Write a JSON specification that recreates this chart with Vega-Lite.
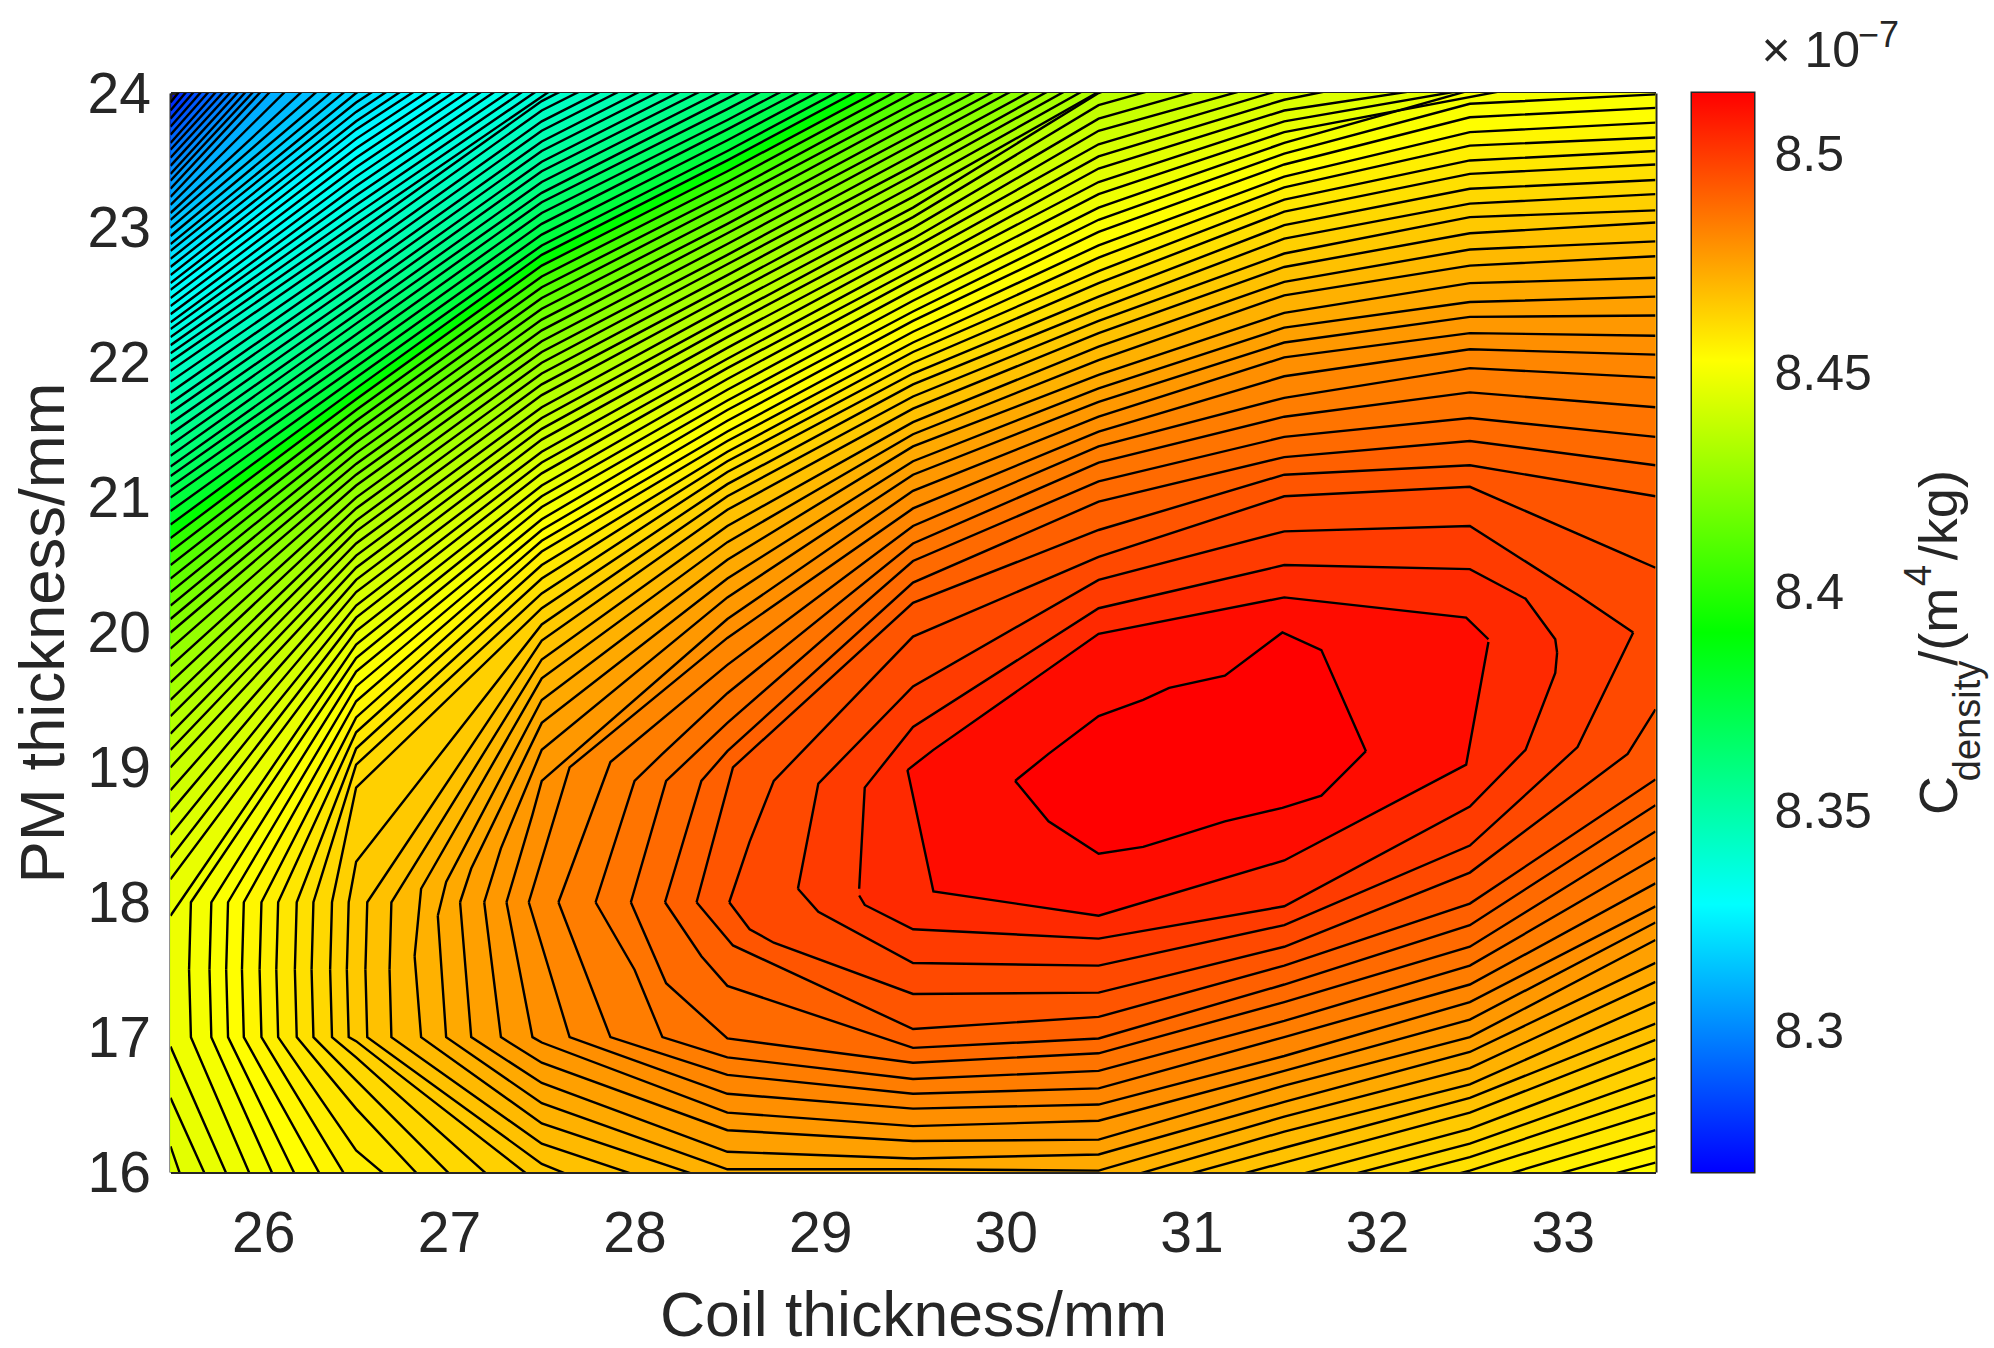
{"$schema":"https://vega.github.io/schema/vega-lite/v6.json","autosize":"none","padding":{"left":170.5,"top":93,"right":1823.5,"bottom":1255},"background":"white","config":{"font":"Liberation Sans","axis":{"grid":false,"domainColor":"#262626","domainWidth":3,"tickColor":"#262626","tickWidth":2,"labelColor":"#262626","titleColor":"#262626","titleFontWeight":"normal","zindex":1}},"bounds":"flush","spacing":36.5,"datasets":{"u":[
{"L":8.265,"x":25.5,"h":23.93},{"L":8.265,"x":25.6,"h":24.1},
{"L":8.2675,"x":25.5,"h":23.87},{"L":8.2675,"x":25.66,"h":24.13},
{"L":8.27,"x":25.5,"h":23.81},{"L":8.27,"x":25.74,"h":24.19},
{"L":8.2725,"x":25.5,"h":23.75},{"L":8.2725,"x":25.82,"h":24.25},
{"L":8.275,"x":25.5,"h":23.69},{"L":8.275,"x":25.9,"h":24.31},
{"L":8.2775,"x":25.5,"h":23.63},{"L":8.2775,"x":25.98,"h":24.37},
{"L":8.28,"x":25.5,"h":23.58},{"L":8.28,"x":26.06,"h":24.42},
{"L":8.2825,"x":25.5,"h":23.52},{"L":8.2825,"x":26.14,"h":24.48},
{"L":8.285,"x":25.5,"h":23.46},{"L":8.285,"x":26.22,"h":24.54},
{"L":8.2875,"x":25.5,"h":23.4},{"L":8.2875,"x":26.3,"h":24.6},
{"L":8.29,"x":25.5,"h":23.35},{"L":8.29,"x":26.38,"h":24.65},
{"L":8.2925,"x":25.5,"h":23.29},{"L":8.2925,"x":26.46,"h":24.71},
{"L":8.295,"x":25.5,"h":23.23},{"L":8.295,"x":26.56,"h":24.77},
{"L":8.2975,"x":25.5,"h":23.17},{"L":8.2975,"x":26.72,"h":24.83},
{"L":8.3,"x":25.5,"h":23.11},{"L":8.3,"x":26.9,"h":24.89},
{"L":8.3025,"x":25.5,"h":23.06},{"L":8.3025,"x":27.06,"h":24.94},
{"L":8.305,"x":25.5,"h":23},{"L":8.305,"x":27.22,"h":25},
{"L":8.3075,"x":25.5,"h":22.94},{"L":8.3075,"x":27.36,"h":25.06},
{"L":8.31,"x":25.5,"h":22.88},{"L":8.31,"x":26.5,"h":24},{"L":8.31,"x":27,"h":24.4},
{"L":8.3125,"x":25.5,"h":22.83},{"L":8.3125,"x":26.5,"h":23.93},{"L":8.3125,"x":26.97,"h":24.35},
{"L":8.315,"x":25.5,"h":22.77},{"L":8.315,"x":26.5,"h":23.86},{"L":8.315,"x":27.04,"h":24.35},
{"L":8.3175,"x":25.5,"h":22.71},{"L":8.3175,"x":26.5,"h":23.79},{"L":8.3175,"x":27.11,"h":24.35},
{"L":8.32,"x":25.5,"h":22.65},{"L":8.32,"x":26.5,"h":23.73},{"L":8.32,"x":27.19,"h":24.35},
{"L":8.3225,"x":25.5,"h":22.59},{"L":8.3225,"x":26.5,"h":23.66},{"L":8.3225,"x":27.26,"h":24.35},
{"L":8.325,"x":25.5,"h":22.54},{"L":8.325,"x":26.5,"h":23.59},{"L":8.325,"x":27.33,"h":24.35},
{"L":8.3275,"x":25.5,"h":22.48},{"L":8.3275,"x":26.5,"h":23.52},{"L":8.3275,"x":27.4,"h":24.35},
{"L":8.33,"x":25.5,"h":22.42},{"L":8.33,"x":26.5,"h":23.45},{"L":8.33,"x":27.47,"h":24.35},
{"L":8.3325,"x":25.5,"h":22.36},{"L":8.3325,"x":26.5,"h":23.38},{"L":8.3325,"x":27.54,"h":24.35},
{"L":8.335,"x":25.5,"h":22.3},{"L":8.335,"x":26.5,"h":23.31},{"L":8.335,"x":27.61,"h":24.35},
{"L":8.3375,"x":25.5,"h":22.25},{"L":8.3375,"x":26.5,"h":23.24},{"L":8.3375,"x":27.69,"h":24.35},
{"L":8.34,"x":25.5,"h":22.19},{"L":8.34,"x":26.5,"h":23.17},{"L":8.34,"x":27.76,"h":24.35},
{"L":8.3425,"x":25.5,"h":22.13},{"L":8.3425,"x":26.5,"h":23.1},{"L":8.3425,"x":27.83,"h":24.35},
{"L":8.345,"x":25.5,"h":22.07},{"L":8.345,"x":26.5,"h":23.03},{"L":8.345,"x":27.9,"h":24.35},
{"L":8.3475,"x":25.5,"h":22.01},{"L":8.3475,"x":26.5,"h":22.96},{"L":8.3475,"x":27.5,"h":23.94},{"L":8.3475,"x":28.01,"h":24.3},
{"L":8.35,"x":25.5,"h":21.94},{"L":8.35,"x":26.5,"h":22.89},{"L":8.35,"x":27.5,"h":23.87},{"L":8.35,"x":28.12,"h":24.3},
{"L":8.3525,"x":25.5,"h":21.86},{"L":8.3525,"x":26.5,"h":22.81},{"L":8.3525,"x":27.5,"h":23.79},{"L":8.3525,"x":28.23,"h":24.3},
{"L":8.355,"x":25.5,"h":21.78},{"L":8.355,"x":26.5,"h":22.74},{"L":8.355,"x":27.5,"h":23.72},{"L":8.355,"x":28.33,"h":24.3},
{"L":8.3575,"x":25.5,"h":21.7},{"L":8.3575,"x":26.5,"h":22.66},{"L":8.3575,"x":27.5,"h":23.64},{"L":8.3575,"x":28.44,"h":24.3},
{"L":8.36,"x":25.5,"h":21.63},{"L":8.36,"x":26.5,"h":22.59},{"L":8.36,"x":27.5,"h":23.57},{"L":8.36,"x":28.55,"h":24.3},
{"L":8.3625,"x":25.5,"h":21.55},{"L":8.3625,"x":26.5,"h":22.51},{"L":8.3625,"x":27.5,"h":23.49},{"L":8.3625,"x":28.66,"h":24.3},
{"L":8.365,"x":25.5,"h":21.47},{"L":8.365,"x":26.5,"h":22.44},{"L":8.365,"x":27.5,"h":23.42},{"L":8.365,"x":28.77,"h":24.3},
{"L":8.3675,"x":25.5,"h":21.39},{"L":8.3675,"x":26.5,"h":22.36},{"L":8.3675,"x":27.5,"h":23.34},{"L":8.3675,"x":28.88,"h":24.3},
{"L":8.37,"x":25.5,"h":21.31},{"L":8.37,"x":26.5,"h":22.29},{"L":8.37,"x":27.5,"h":23.26},{"L":8.37,"x":28.5,"h":23.96},{"L":8.37,"x":28.98,"h":24.3},
{"L":8.3725,"x":25.5,"h":21.23},{"L":8.3725,"x":26.5,"h":22.21},{"L":8.3725,"x":27.5,"h":23.19},{"L":8.3725,"x":28.5,"h":23.88},{"L":8.3725,"x":29.08,"h":24.3},
{"L":8.375,"x":25.5,"h":21.16},{"L":8.375,"x":26.5,"h":22.13},{"L":8.375,"x":27.5,"h":23.11},{"L":8.375,"x":28.5,"h":23.8},{"L":8.375,"x":29.19,"h":24.3},
{"L":8.3775,"x":25.5,"h":21.08},{"L":8.3775,"x":26.5,"h":22.05},{"L":8.3775,"x":27.5,"h":23.03},{"L":8.3775,"x":28.5,"h":23.73},{"L":8.3775,"x":29.29,"h":24.3},
{"L":8.38,"x":25.5,"h":21},{"L":8.38,"x":26.5,"h":21.97},{"L":8.38,"x":27.5,"h":22.95},{"L":8.38,"x":28.5,"h":23.65},{"L":8.38,"x":29.39,"h":24.3},
{"L":8.3825,"x":25.5,"h":20.9},{"L":8.3825,"x":26.5,"h":21.89},{"L":8.3825,"x":27.5,"h":22.87},{"L":8.3825,"x":28.5,"h":23.57},{"L":8.3825,"x":29.49,"h":24.3},
{"L":8.385,"x":25.5,"h":20.8},{"L":8.385,"x":26.5,"h":21.81},{"L":8.385,"x":27.5,"h":22.8},{"L":8.385,"x":28.5,"h":23.5},{"L":8.385,"x":29.59,"h":24.3},
{"L":8.3875,"x":25.5,"h":20.7},{"L":8.3875,"x":26.5,"h":21.73},{"L":8.3875,"x":27.5,"h":22.72},{"L":8.3875,"x":28.5,"h":23.42},{"L":8.3875,"x":29.7,"h":24.3},
{"L":8.39,"x":25.5,"h":20.6},{"L":8.39,"x":26.5,"h":21.65},{"L":8.39,"x":27.5,"h":22.64},{"L":8.39,"x":28.5,"h":23.34},{"L":8.39,"x":29.8,"h":24.3},
{"L":8.3925,"x":25.5,"h":20.5},{"L":8.3925,"x":26.5,"h":21.57},{"L":8.3925,"x":27.5,"h":22.56},{"L":8.3925,"x":28.5,"h":23.26},{"L":8.3925,"x":29.9,"h":24.3},
{"L":8.395,"x":25.5,"h":20.4},{"L":8.395,"x":26.5,"h":21.49},{"L":8.395,"x":27.5,"h":22.48},{"L":8.395,"x":28.5,"h":23.19},{"L":8.395,"x":29.5,"h":23.92},{"L":8.395,"x":29.99,"h":24.25},
{"L":8.3975,"x":25.5,"h":20.3},{"L":8.3975,"x":26.5,"h":21.41},{"L":8.3975,"x":27.5,"h":22.4},{"L":8.3975,"x":28.5,"h":23.11},{"L":8.3975,"x":29.5,"h":23.85},{"L":8.3975,"x":30.08,"h":24.25},
{"L":8.4,"x":25.5,"h":20.2},{"L":8.4,"x":26.5,"h":21.33},{"L":8.4,"x":27.5,"h":22.32},{"L":8.4,"x":28.5,"h":23.03},{"L":8.4,"x":29.5,"h":23.77},{"L":8.4,"x":30.17,"h":24.25},
{"L":8.4025,"x":25.5,"h":20.1},{"L":8.4025,"x":26.5,"h":21.25},{"L":8.4025,"x":27.5,"h":22.24},{"L":8.4025,"x":28.5,"h":22.96},{"L":8.4025,"x":29.5,"h":23.69},{"L":8.4025,"x":30.26,"h":24.25},
{"L":8.405,"x":25.5,"h":20},{"L":8.405,"x":26.5,"h":21.17},{"L":8.405,"x":27.5,"h":22.16},{"L":8.405,"x":28.5,"h":22.88},{"L":8.405,"x":29.5,"h":23.62},{"L":8.405,"x":30.35,"h":24.25},
{"L":8.4075,"x":25.5,"h":19.88},{"L":8.4075,"x":26.5,"h":21.09},{"L":8.4075,"x":27.5,"h":22.08},{"L":8.4075,"x":28.5,"h":22.8},{"L":8.4075,"x":29.5,"h":23.54},{"L":8.4075,"x":30.45,"h":24.25},
{"L":8.41,"x":25.5,"h":19.75},{"L":8.41,"x":26.5,"h":21},{"L":8.41,"x":27.5,"h":22},{"L":8.41,"x":28.5,"h":22.73},{"L":8.41,"x":29.5,"h":23.46},{"L":8.41,"x":30.54,"h":24.25},
{"L":8.4125,"x":25.5,"h":19.63},{"L":8.4125,"x":26.5,"h":20.92},{"L":8.4125,"x":27.5,"h":21.92},{"L":8.4125,"x":28.5,"h":22.65},{"L":8.4125,"x":29.5,"h":23.39},{"L":8.4125,"x":30.63,"h":24.25},
{"L":8.415,"x":25.5,"h":19.5},{"L":8.415,"x":26.5,"h":20.83},{"L":8.415,"x":27.5,"h":21.84},{"L":8.415,"x":28.5,"h":22.57},{"L":8.415,"x":29.5,"h":23.31},{"L":8.415,"x":30.72,"h":24.25},
{"L":8.4175,"x":25.5,"h":19.38},{"L":8.4175,"x":26.5,"h":20.75},{"L":8.4175,"x":27.5,"h":21.76},{"L":8.4175,"x":28.5,"h":22.5},{"L":8.4175,"x":29.5,"h":23.23},{"L":8.4175,"x":30.81,"h":24.25},
{"L":8.42,"x":25.5,"h":19.25},{"L":8.42,"x":26.5,"h":20.66},{"L":8.42,"x":27.5,"h":21.67},{"L":8.42,"x":28.5,"h":22.42},{"L":8.42,"x":29.5,"h":23.15},{"L":8.42,"x":30.5,"h":24},{"L":8.42,"x":31,"h":24.25},
{"L":8.4225,"x":25.5,"h":19.13},{"L":8.4225,"x":26.5,"h":20.57},{"L":8.4225,"x":27.5,"h":21.59},{"L":8.4225,"x":28.5,"h":22.34},{"L":8.4225,"x":29.5,"h":23.08},{"L":8.4225,"x":30.5,"h":23.91},{"L":8.4225,"x":31.25,"h":24.2},
{"L":8.425,"x":25.5,"h":19},{"L":8.425,"x":26.5,"h":20.48},{"L":8.425,"x":27.5,"h":21.51},{"L":8.425,"x":28.5,"h":22.27},{"L":8.425,"x":29.5,"h":23},{"L":8.425,"x":30.5,"h":23.81},{"L":8.425,"x":31.5,"h":24.2},
{"L":8.4275,"x":25.5,"h":18.83},{"L":8.4275,"x":26.5,"h":20.39},{"L":8.4275,"x":27.5,"h":21.43},{"L":8.4275,"x":28.5,"h":22.19},{"L":8.4275,"x":29.5,"h":22.92},{"L":8.4275,"x":30.5,"h":23.72},{"L":8.4275,"x":31.75,"h":24.2},
{"L":8.43,"x":25.5,"h":18.67},{"L":8.43,"x":26.5,"h":20.3},{"L":8.43,"x":27.5,"h":21.34},{"L":8.43,"x":28.5,"h":22.11},{"L":8.43,"x":29.5,"h":22.85},{"L":8.43,"x":30.5,"h":23.62},{"L":8.43,"x":31.5,"h":24.03},{"L":8.43,"x":32.2,"h":24.2},
{"L":8.4325,"x":25.5,"h":18.5},{"L":8.4325,"x":26.5,"h":20.2},{"L":8.4325,"x":27.5,"h":21.26},{"L":8.4325,"x":28.5,"h":22.03},{"L":8.4325,"x":29.5,"h":22.77},{"L":8.4325,"x":30.5,"h":23.53},{"L":8.4325,"x":31.5,"h":23.95},{"L":8.4325,"x":32.4,"h":24.2}
],"b":[
{"L":8.435,"x":25.5,"h":18.33,"l":16.19},{"L":8.435,"x":26.5,"h":20.11,"l":12.2},{"L":8.435,"x":27.5,"h":21.18,"l":12},{"L":8.435,"x":28.5,"h":21.96,"l":12},{"L":8.435,"x":29.5,"h":22.69,"l":12},{"L":8.435,"x":30.5,"h":23.44,"l":12},{"L":8.435,"x":31.5,"h":23.87,"l":12},{"L":8.435,"x":32.6,"h":24.1,"l":12},
{"L":8.4375,"x":25.5,"h":18.17,"l":16.55},{"L":8.4375,"x":26.5,"h":20.01,"l":13.5},{"L":8.4375,"x":27.5,"h":21.09,"l":12},{"L":8.4375,"x":28.5,"h":21.88,"l":12},{"L":8.4375,"x":29.5,"h":22.62,"l":12},{"L":8.4375,"x":30.5,"h":23.34,"l":12},{"L":8.4375,"x":31.5,"h":23.79,"l":12},{"L":8.4375,"x":32.8,"h":24.1,"l":12},
{"L":8.44,"x":25.5,"h":17.9,"l":16.93},{"L":8.44,"x":26.5,"h":19.91,"l":13.8},{"L":8.44,"x":27.5,"h":21.01,"l":12},{"L":8.44,"x":28.5,"h":21.8,"l":12},{"L":8.44,"x":29.5,"h":22.54,"l":12},{"L":8.44,"x":30.5,"h":23.25,"l":12},{"L":8.44,"x":31.5,"h":23.71,"l":12},{"L":8.44,"x":33,"h":24.1,"l":12},
{"L":8.4425,"x":25.6,"h":17.5,"l":17.5},{"L":8.4425,"x":25.61,"h":18,"l":17},{"L":8.4425,"x":26.5,"h":19.81,"l":14.15},{"L":8.4425,"x":27.5,"h":20.93,"l":12},{"L":8.4425,"x":28.5,"h":21.72,"l":12},{"L":8.4425,"x":29.5,"h":22.46,"l":12},{"L":8.4425,"x":30.5,"h":23.15,"l":12},{"L":8.4425,"x":31.5,"h":23.63,"l":12},{"L":8.4425,"x":32.5,"h":24.02,"l":12},{"L":8.4425,"x":33.5,"h":24.1,"l":12},
{"L":8.445,"x":25.71,"h":17.5,"l":17.5},{"L":8.445,"x":25.72,"h":18,"l":17},{"L":8.445,"x":26.5,"h":19.71,"l":14.6},{"L":8.445,"x":27.5,"h":20.84,"l":14},{"L":8.445,"x":28.5,"h":21.65,"l":14},{"L":8.445,"x":29.5,"h":22.38,"l":14},{"L":8.445,"x":30.5,"h":23.06,"l":14},{"L":8.445,"x":31.5,"h":23.55,"l":14},{"L":8.445,"x":32.5,"h":23.92,"l":14},{"L":8.445,"x":33.5,"h":23.99,"l":14},
{"L":8.4475,"x":25.8,"h":17.5,"l":17.5},{"L":8.4475,"x":25.81,"h":18,"l":17},{"L":8.4475,"x":26.5,"h":19.6,"l":15.05},{"L":8.4475,"x":27.5,"h":20.76,"l":15},{"L":8.4475,"x":28.5,"h":21.57,"l":15},{"L":8.4475,"x":29.5,"h":22.31,"l":15},{"L":8.4475,"x":30.5,"h":22.97,"l":15},{"L":8.4475,"x":31.5,"h":23.47,"l":15},{"L":8.4475,"x":32.5,"h":23.82,"l":15.6},{"L":8.4475,"x":33.5,"h":23.89,"l":15.95},
{"L":8.45,"x":25.885,"h":17.5,"l":17.5},{"L":8.45,"x":25.895,"h":18,"l":17},{"L":8.45,"x":26.5,"h":19.49,"l":15.5},{"L":8.45,"x":27.5,"h":20.68,"l":15},{"L":8.45,"x":28.5,"h":21.49,"l":15},{"L":8.45,"x":29.5,"h":22.23,"l":15},{"L":8.45,"x":30.5,"h":22.87,"l":15},{"L":8.45,"x":31.5,"h":23.38,"l":15},{"L":8.45,"x":32.5,"h":23.71,"l":15.7},{"L":8.45,"x":33.5,"h":23.78,"l":16.07},
{"L":8.4525,"x":25.98,"h":17.5,"l":17.5},{"L":8.4525,"x":25.99,"h":18,"l":17},{"L":8.4525,"x":26.5,"h":19.37,"l":15.84},{"L":8.4525,"x":27.5,"h":20.6,"l":15},{"L":8.4525,"x":28.5,"h":21.42,"l":15},{"L":8.4525,"x":29.5,"h":22.15,"l":15},{"L":8.4525,"x":30.5,"h":22.78,"l":15},{"L":8.4525,"x":31.5,"h":23.3,"l":15},{"L":8.4525,"x":32.5,"h":23.61,"l":15.8},{"L":8.4525,"x":33.5,"h":23.67,"l":16.19},
{"L":8.455,"x":26.07,"h":17.5,"l":17.5},{"L":8.455,"x":26.08,"h":18,"l":17},{"L":8.455,"x":26.5,"h":19.26,"l":16.16},{"L":8.455,"x":27.5,"h":20.5,"l":15},{"L":8.455,"x":28.5,"h":21.34,"l":15},{"L":8.455,"x":29.5,"h":22.08,"l":15},{"L":8.455,"x":30.5,"h":22.68,"l":15},{"L":8.455,"x":31.5,"h":23.21,"l":15.55},{"L":8.455,"x":32.5,"h":23.5,"l":15.9},{"L":8.455,"x":33.5,"h":23.57,"l":16.31},
{"L":8.4575,"x":26.17,"h":17.5,"l":17.5},{"L":8.4575,"x":26.18,"h":18,"l":17},{"L":8.4575,"x":26.5,"h":19.14,"l":16.47},{"L":8.4575,"x":27.5,"h":20.4,"l":15},{"L":8.4575,"x":28.5,"h":21.27,"l":15},{"L":8.4575,"x":29.5,"h":22,"l":15},{"L":8.4575,"x":30.5,"h":22.59,"l":15},{"L":8.4575,"x":31.5,"h":23.12,"l":15.65},{"L":8.4575,"x":32.5,"h":23.4,"l":16.01},{"L":8.4575,"x":33.5,"h":23.47,"l":16.44},
{"L":8.46,"x":26.26,"h":17.5,"l":17.5},{"L":8.46,"x":26.27,"h":18,"l":17},{"L":8.46,"x":26.5,"h":19.02,"l":16.68},{"L":8.46,"x":27.5,"h":20.29,"l":15.3},{"L":8.46,"x":28.5,"h":21.19,"l":15},{"L":8.46,"x":29.5,"h":21.92,"l":15},{"L":8.46,"x":30.5,"h":22.49,"l":15},{"L":8.46,"x":31.5,"h":23.02,"l":15.75},{"L":8.46,"x":32.5,"h":23.29,"l":16.11},{"L":8.46,"x":33.5,"h":23.355,"l":16.57},
{"L":8.4625,"x":26.36,"h":17.5,"l":17.5},{"L":8.4625,"x":26.37,"h":18,"l":17},{"L":8.4625,"x":26.5,"h":18.85,"l":16.85},{"L":8.4625,"x":27.5,"h":20.18,"l":15.62},{"L":8.4625,"x":28.5,"h":21.1,"l":15},{"L":8.4625,"x":29.5,"h":21.84,"l":15},{"L":8.4625,"x":30.5,"h":22.4,"l":15.5},{"L":8.4625,"x":31.5,"h":22.92,"l":15.85},{"L":8.4625,"x":32.5,"h":23.18,"l":16.21},{"L":8.4625,"x":33.5,"h":23.25,"l":16.7},
{"L":8.465,"x":26.45,"h":17.5,"l":17.5},{"L":8.465,"x":26.46,"h":18,"l":17},{"L":8.465,"x":26.5,"h":18.3,"l":16.97},{"L":8.465,"x":27.5,"h":20.06,"l":15.9},{"L":8.465,"x":28.5,"h":21.01,"l":15.2},{"L":8.465,"x":29.5,"h":21.75,"l":15},{"L":8.465,"x":30.5,"h":22.31,"l":15.6},{"L":8.465,"x":31.5,"h":22.81,"l":15.95},{"L":8.465,"x":32.5,"h":23.08,"l":16.32},{"L":8.465,"x":33.5,"h":23.13,"l":16.84},
{"L":8.4675,"x":26.55,"h":17.5,"l":17.5},{"L":8.4675,"x":26.56,"h":18,"l":17},{"L":8.4675,"x":27.5,"h":19.94,"l":16.06},{"L":8.4675,"x":28.5,"h":20.91,"l":15.5},{"L":8.4675,"x":29.5,"h":21.66,"l":15.3},{"L":8.4675,"x":30.5,"h":22.22,"l":15.7},{"L":8.4675,"x":31.5,"h":22.71,"l":16.07},{"L":8.4675,"x":32.5,"h":22.96,"l":16.44},{"L":8.4675,"x":33.5,"h":23.04,"l":16.98},
{"L":8.47,"x":26.68,"h":17.5,"l":17.5},{"L":8.47,"x":26.69,"h":18,"l":17},{"L":8.47,"x":27.5,"h":19.8,"l":16.21},{"L":8.47,"x":28.5,"h":20.79,"l":15.75},{"L":8.47,"x":29.5,"h":21.56,"l":15.8},{"L":8.47,"x":30.5,"h":22.12,"l":15.8},{"L":8.47,"x":31.5,"h":22.6,"l":16.18},{"L":8.47,"x":32.5,"h":22.84,"l":16.55},{"L":8.47,"x":33.5,"h":22.9,"l":17.1},
{"L":8.4725,"x":26.815,"h":17.6,"l":17.6},{"L":8.4725,"x":26.85,"h":18.1,"l":17},{"L":8.4725,"x":27.5,"h":19.66,"l":16.36},{"L":8.4725,"x":28.5,"h":20.67,"l":15.9},{"L":8.4725,"x":29.5,"h":21.47,"l":15.9},{"L":8.4725,"x":30.5,"h":22.02,"l":15.9},{"L":8.4725,"x":31.5,"h":22.5,"l":16.3},{"L":8.4725,"x":32.5,"h":22.72,"l":16.65},{"L":8.4725,"x":33.5,"h":22.79,"l":17.26},
{"L":8.475,"x":26.94,"h":17.9,"l":17.9},{"L":8.475,"x":26.985,"h":18.15,"l":17},{"L":8.475,"x":27.5,"h":19.5,"l":16.51},{"L":8.475,"x":28.5,"h":20.54,"l":16.02},{"L":8.475,"x":29.5,"h":21.38,"l":16.02},{"L":8.475,"x":30.5,"h":21.91,"l":16.01},{"L":8.475,"x":31.5,"h":22.37,"l":16.41},{"L":8.475,"x":32.5,"h":22.59,"l":16.77},{"L":8.475,"x":33.5,"h":22.63,"l":17.41},
{"L":8.4775,"x":27.06,"h":18,"l":18},{"L":8.4775,"x":27.12,"h":18.25,"l":17},{"L":8.4775,"x":27.5,"h":19.33,"l":16.66},{"L":8.4775,"x":28.5,"h":20.4,"l":16.15},{"L":8.4775,"x":29.5,"h":21.27,"l":16.1},{"L":8.4775,"x":30.5,"h":21.81,"l":16.13},{"L":8.4775,"x":31.5,"h":22.26,"l":16.52},{"L":8.4775,"x":32.5,"h":22.45,"l":16.89},{"L":8.4775,"x":33.5,"h":22.49,"l":17.55},
{"L":8.48,"x":27.19,"h":18,"l":18},{"L":8.48,"x":27.28,"h":18.4,"l":17},{"L":8.48,"x":27.5,"h":19.13,"l":16.81},{"L":8.48,"x":28.5,"h":20.26,"l":16.31},{"L":8.48,"x":29.5,"h":21.17,"l":16.23},{"L":8.48,"x":30.5,"h":21.71,"l":16.24},{"L":8.48,"x":31.5,"h":22.15,"l":16.64},{"L":8.48,"x":32.5,"h":22.34,"l":17},{"L":8.48,"x":33.5,"h":22.35,"l":17.72},
{"L":8.4825,"x":27.31,"h":18,"l":18},{"L":8.4825,"x":27.45,"h":18.65,"l":17},{"L":8.4825,"x":27.5,"h":18.9,"l":16.96},{"L":8.4825,"x":28.5,"h":20.1,"l":16.44},{"L":8.4825,"x":29.5,"h":21.05,"l":16.34},{"L":8.4825,"x":30.5,"h":21.6,"l":16.38},{"L":8.4825,"x":31.5,"h":22.04,"l":16.75},{"L":8.4825,"x":32.5,"h":22.22,"l":17.13},{"L":8.4825,"x":33.5,"h":22.2,"l":17.85},
{"L":8.485,"x":27.43,"h":18,"l":18},{"L":8.485,"x":27.65,"h":19,"l":17},{"L":8.485,"x":28.5,"h":19.96,"l":16.58},{"L":8.485,"x":29.5,"h":20.92,"l":16.47},{"L":8.485,"x":30.5,"h":21.49,"l":16.5},{"L":8.485,"x":31.5,"h":21.9,"l":16.86},{"L":8.485,"x":32.5,"h":22.1,"l":17.26},{"L":8.485,"x":33.5,"h":22.06,"l":17.97},
{"L":8.4875,"x":27.59,"h":18,"l":18},{"L":8.4875,"x":27.87,"h":19.04,"l":17},{"L":8.4875,"x":28.5,"h":19.76,"l":16.72},{"L":8.4875,"x":29.5,"h":20.79,"l":16.58},{"L":8.4875,"x":30.5,"h":21.38,"l":16.62},{"L":8.4875,"x":31.5,"h":21.74,"l":17},{"L":8.4875,"x":32.5,"h":21.96,"l":17.39},{"L":8.4875,"x":33.5,"h":21.89,"l":18.14},
{"L":8.49,"x":27.79,"h":18,"l":18},{"L":8.49,"x":28,"h":18.9,"l":17.5},{"L":8.49,"x":28.15,"h":19.1,"l":17},{"L":8.49,"x":28.5,"h":19.55,"l":16.85},{"L":8.49,"x":29.5,"h":20.66,"l":16.69},{"L":8.49,"x":30.5,"h":21.26,"l":16.75},{"L":8.49,"x":31.5,"h":21.6,"l":17.12},{"L":8.49,"x":32.5,"h":21.78,"l":17.53},{"L":8.49,"x":33.5,"h":21.67,"l":18.33},
{"L":8.4925,"x":27.98,"h":18,"l":18},{"L":8.4925,"x":28.17,"h":18.9,"l":17.4},{"L":8.4925,"x":28.5,"h":19.33,"l":16.99},{"L":8.4925,"x":29.5,"h":20.53,"l":16.81},{"L":8.4925,"x":30.5,"h":21.12,"l":16.88},{"L":8.4925,"x":31.5,"h":21.45,"l":17.26},{"L":8.4925,"x":32.5,"h":21.59,"l":17.67},{"L":8.4925,"x":33.5,"h":21.45,"l":18.525},
{"L":8.495,"x":28.164,"h":18,"l":18},{"L":8.495,"x":28.36,"h":18.9,"l":17.6},{"L":8.495,"x":28.5,"h":19.12,"l":17.38},{"L":8.495,"x":29.5,"h":20.37,"l":16.92},{"L":8.495,"x":30.5,"h":20.97,"l":16.99},{"L":8.495,"x":31.5,"h":21.3,"l":17.39},{"L":8.495,"x":32.5,"h":21.42,"l":17.83},{"L":8.495,"x":33.5,"h":21.24,"l":18.72},
{"L":8.4975,"x":28.334,"h":18,"l":18},{"L":8.4975,"x":28.53,"h":19,"l":17.68},{"L":8.4975,"x":29.5,"h":20.22,"l":17.06},{"L":8.4975,"x":30.5,"h":20.76,"l":17.15},{"L":8.4975,"x":31.5,"h":21.17,"l":17.53},{"L":8.4975,"x":32.5,"h":21.24,"l":17.99},{"L":8.4975,"x":33.5,"h":21.01,"l":18.91},
{"L":8.5,"x":28.51,"h":18,"l":18},{"L":8.5,"x":28.62,"h":18.45,"l":17.8},{"L":8.5,"x":28.75,"h":18.9,"l":17.7},{"L":8.5,"x":29.5,"h":19.97,"l":17.32},{"L":8.5,"x":30.5,"h":20.56,"l":17.33},{"L":8.5,"x":31.5,"h":21.01,"l":17.67},{"L":8.5,"x":32.5,"h":21.08,"l":18.22},{"L":8.5,"x":33.35,"h":20.57,"l":19.1},{"L":8.5,"x":33.5,"h":20.48,"l":19.43},
{"L":8.5025,"x":28.88,"h":18.1,"l":18.1},{"L":8.5025,"x":28.99,"h":18.88,"l":17.93},{"L":8.5025,"x":29.5,"h":19.6,"l":17.55},{"L":8.5025,"x":30.5,"h":20.39,"l":17.53},{"L":8.5025,"x":31.5,"h":20.75,"l":17.83},{"L":8.5025,"x":32.5,"h":20.79,"l":18.42},{"L":8.5025,"x":33.08,"h":20.28,"l":19.15},{"L":8.5025,"x":33.38,"h":20,"l":20},
{"L":8.505,"x":29.21,"h":18.1,"l":18.05},{"L":8.505,"x":29.24,"h":18.85,"l":17.98},{"L":8.505,"x":29.5,"h":19.3,"l":17.8},{"L":8.505,"x":30.5,"h":20.18,"l":17.73},{"L":8.505,"x":31.5,"h":20.5,"l":17.97},{"L":8.505,"x":32.5,"h":20.47,"l":18.71},{"L":8.505,"x":32.8,"h":20.25,"l":19.13},{"L":8.505,"x":32.96,"h":19.95,"l":19.7},{"L":8.505,"x":32.97,"h":19.85,"l":19.85},
{"L":8.5075,"x":29.47,"h":18.98,"l":18.98},{"L":8.5075,"x":29.61,"h":19.13,"l":18.08},{"L":8.5075,"x":30.5,"h":19.99,"l":17.9},{"L":8.5075,"x":31.5,"h":20.26,"l":18.31},{"L":8.5075,"x":32.48,"h":20.11,"l":19.02},{"L":8.5075,"x":32.6,"h":19.95,"l":19.93},
{"L":8.51,"x":30.05,"h":18.9,"l":18.9},{"L":8.51,"x":30.23,"h":19.1,"l":18.6},{"L":8.51,"x":30.5,"h":19.38,"l":18.36},{"L":8.51,"x":30.74,"h":19.5,"l":18.41},{"L":8.51,"x":30.88,"h":19.59,"l":18.47},{"L":8.51,"x":31.18,"h":19.68,"l":18.6},{"L":8.51,"x":31.49,"h":20,"l":18.7},{"L":8.51,"x":31.7,"h":19.87,"l":18.79},{"L":8.51,"x":31.94,"h":19.12,"l":19.12}
],"cb":[{"a":8.267,"b":8.513}]},
"hconcat":[{"width":1485,"height":1079,"view":{"fill":"#0000ff","stroke":null},
"encoding":{"x":{"field":"x","type":"quantitative","scale":{"domain":[25.5,33.5],"nice":false,"zero":false}}},
"resolve":{"axis":{"x":"independent","y":"independent"}},
"layer":[
{"data":{"name":"u"},"mark":{"type":"area","clip":true,"interpolate":"linear"},"encoding":{
"x":{"field":"x","type":"quantitative","scale":{"domain":[25.5,33.5],"nice":false,"zero":false},"title":"Coil thickness/mm","axis":{"values":[26,27,28,29,30,31,32,33],"format":"d","tickSize":-11,"labelFontSize":57,"labelPadding":45,"titleFontSize":62.5,"titlePadding":24}},
"y":{"field":"h","type":"quantitative","stack":null,"scale":{"domain":[16,24],"nice":false,"zero":false},"title":"PM thickness/mm","axis":{"values":[16,17,18,19,20,21,22,23,24],"format":"d","tickSize":-11,"labelFontSize":57,"labelPadding":31,"labelOffset":2,"titleFontSize":63.5,"titlePadding":11}},
"detail":{"field":"L"},
"color":{"field":"L","type":"quantitative","legend":null,"scale":{"domain":[8.262,8.323,8.385,8.447,8.508],"range":["#0000ff","#00ffff","#00ff00","#ffff00","#ff0000"],"clamp":true}}}},
{"data":{"name":"b"},"mark":{"type":"area","clip":true},"encoding":{
"x":{"field":"x","type":"quantitative","axis":null},
"y":{"field":"h","type":"quantitative","stack":null,"axis":null},"y2":{"field":"l"},
"detail":{"field":"L"},
"color":{"field":"L","type":"quantitative","legend":null,"scale":{"domain":[8.262,8.323,8.385,8.447,8.508],"range":["#0000ff","#00ffff","#00ff00","#ffff00","#ff0000"],"clamp":true}}}},
{"data":{"name":"u"},"mark":{"type":"line","clip":true,"color":"#000000","strokeWidth":2.4},"encoding":{
"x":{"field":"x","type":"quantitative","title":null,"axis":{"orient":"top","values":[26,27,28,29,30,31,32,33],"labels":false,"tickSize":-11,"title":null}},
"y":{"field":"h","type":"quantitative","title":null,"axis":{"orient":"right","values":[16,17,18,19,20,21,22,23,24],"labels":false,"tickSize":-11,"title":null}},
"detail":{"field":"L"}}},
{"data":{"name":"b"},"mark":{"type":"line","clip":true,"color":"#000000","strokeWidth":2.4},"encoding":{
"x":{"field":"x","type":"quantitative","axis":null},"y":{"field":"h","type":"quantitative","axis":null},"detail":{"field":"L"}}},
{"data":{"name":"b"},"mark":{"type":"line","clip":true,"color":"#000000","strokeWidth":2.4},"encoding":{
"x":{"field":"x","type":"quantitative","axis":null},"y":{"field":"l","type":"quantitative","axis":null},"detail":{"field":"L"}}}
]},
{"width":62,"height":1079,"view":{"stroke":"#262626","strokeWidth":3},"data":{"name":"cb"},
"layer":[
{"mark":{"type":"rect","color":{"gradient":"linear","x1":0,"y1":1,"x2":0,"y2":0,"stops":[{"offset":0,"color":"#0000ff"},{"offset":0.248,"color":"#00ffff"},{"offset":0.5,"color":"#00ff00"},{"offset":0.752,"color":"#ffff00"},{"offset":1,"color":"#ff0000"}]}},
"encoding":{"y":{"field":"a","type":"quantitative","scale":{"domain":[8.267,8.513],"nice":false,"zero":false},"title":null,"axis":{"orient":"right","values":[8.3,8.35,8.4,8.45,8.5],"format":".3~g","tickSize":-9,"labelFontSize":50,"labelPadding":29,"labelOffset":5,"domain":false}},"y2":{"field":"b"}}},
{"mark":{"type":"text","text":"C","angle":270,"align":"left","baseline":"alphabetic","fontSize":54,"color":"#262626"},"encoding":{"x":{"datum":4.274,"type":"quantitative","scale":{"domain":[0,1],"nice":false,"zero":false},"axis":null},"y":{"datum":8.3484,"type":"quantitative"}}},
{"mark":{"type":"text","text":"density","angle":270,"align":"left","baseline":"alphabetic","fontSize":38,"color":"#262626"},"encoding":{"x":{"datum":4.645,"type":"quantitative"},"y":{"datum":8.3561,"type":"quantitative"}}},
{"mark":{"type":"text","text":"/(m","angle":270,"align":"left","baseline":"alphabetic","fontSize":54,"color":"#262626"},"encoding":{"x":{"datum":4.274,"type":"quantitative"},"y":{"datum":8.3824,"type":"quantitative"}}},
{"mark":{"type":"text","text":"4","angle":270,"align":"left","baseline":"alphabetic","fontSize":38,"color":"#262626"},"encoding":{"x":{"datum":3.855,"type":"quantitative"},"y":{"datum":8.4006,"type":"quantitative"}}},
{"mark":{"type":"text","text":"/kg)","angle":270,"align":"left","baseline":"alphabetic","fontSize":54,"color":"#262626"},"encoding":{"x":{"datum":4.274,"type":"quantitative"},"y":{"datum":8.4065,"type":"quantitative"}}},
{"mark":{"type":"text","text":"× 10","align":"left","baseline":"alphabetic","fontSize":50,"color":"#262626"},"encoding":{"x":{"datum":1.12,"type":"quantitative"},"y":{"datum":8.5189,"type":"quantitative"}}},
{"mark":{"type":"text","text":"−7","align":"left","baseline":"alphabetic","fontSize":36,"color":"#262626"},"encoding":{"x":{"datum":2.677,"type":"quantitative"},"y":{"datum":8.5235,"type":"quantitative"}}}
]}]}
